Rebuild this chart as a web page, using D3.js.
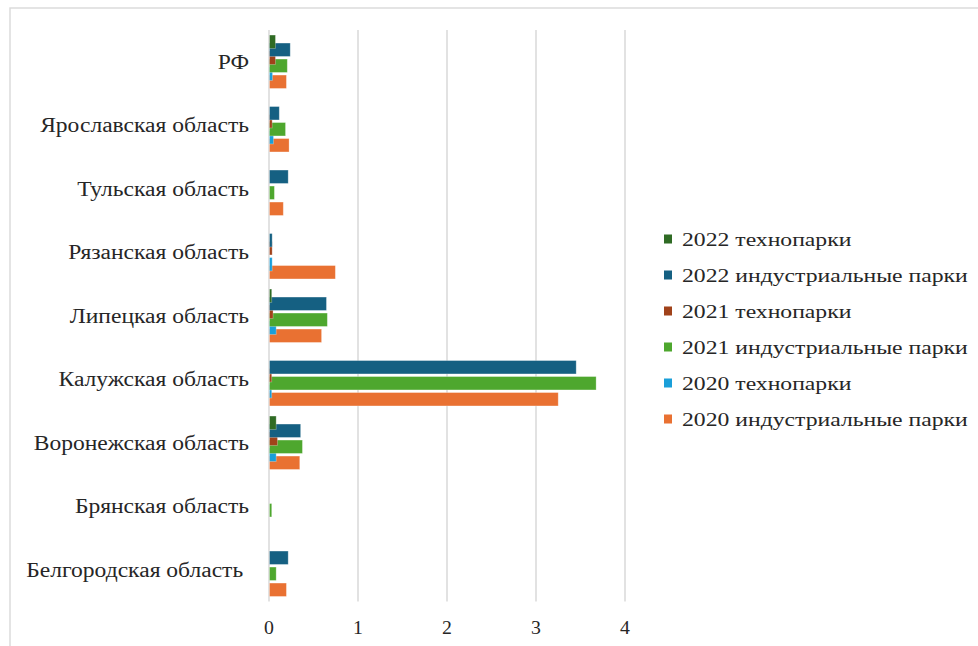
<!DOCTYPE html>
<html><head><meta charset="utf-8">
<script src="https://cdn.jsdelivr.net/npm/d3@7"></script>
<style>html,body{margin:0;padding:0;background:#fff;overflow:hidden}</style>
</head><body>
<svg id="c" width="978" height="646"></svg>
<script>
const categories = ["РФ","Ярославская область","Тульская область","Рязанская область","Липецкая область","Калужская область","Воронежская область","Брянская область","Белгородская область "];
const seriesNames = ["2022 технопарки","2022 индустриальные парки","2021 технопарки","2021 индустриальные парки","2020 технопарки","2020 индустриальные парки"];
const tech2022 = [0.067,0,0,0,0.025,0,0.075,0,0];
const ind2022  = [0.233,0.11,0.21,0.03,0.64,3.446,0.35,0,0.21];
const tech2021 = [0.067,0.03,0,0.03,0.04,0.025,0.09,0,0];
const ind2021  = [0.2,0.18,0.055,0,0.65,3.67,0.37,0.025,0.075];
const tech2020 = [0.034,0.045,0,0.03,0.075,0.025,0.075,0,0];
const ind2020  = [0.19,0.22,0.155,0.74,0.585,3.244,0.34,0,0.19];
const xTicks = [0,1,2,3,4];
const colors = ["#2f6b24","#156082","#a0421a","#4ea72e","#1a9fd9","#e97132"];

const seriesValues = [tech2022, ind2022, tech2021, ind2021, tech2020, ind2020];
const svg = d3.select("#c");
const font = "'Liberation Serif', serif";
const catStretch = 1.177, legStretch = 1.215;

svg.append("rect").attr("x",10).attr("y",8).attr("width",1000).attr("height",700)
  .attr("fill","none").attr("stroke","#d9d9d9").attr("stroke-width",1.4);

const x = d3.scaleLinear().domain([0,4]).range([269,625]);
const y = d3.scaleBand().domain(categories).range([30,601.5]);
const bw = y.bandwidth();
const barH = bw*0.211;
const step = bw*0.126;
const ySub = d3.scalePoint().domain(seriesNames).range([0,5*step]);
const groupOff = (bw - (5*step+barH))/2;

// gridlines
svg.append("g").selectAll("line").data(xTicks).join("line")
  .attr("x1",d=>x(d)).attr("x2",d=>x(d)).attr("y1",30).attr("y2",601.5)
  .attr("stroke","#d9d9d9").attr("stroke-width",1.5);

// bars: lower series drawn first so upper series overlap them
const order = [5,4,3,2,1,0];
const gBars = svg.append("g");
order.forEach(si=>{
  gBars.append("g").selectAll("rect").data(seriesValues[si].map((v,i)=>({v,c:categories[i]})).filter(d=>d.v>0))
    .join("rect")
    .attr("x",x(0)+0.5)
    .attr("y",d=>y(d.c)+groupOff+ySub(seriesNames[si]))
    .attr("width",d=>x(d.v)-x(0))
    .attr("height",barH)
    .attr("fill",colors[si])
    .attr("stroke","rgba(255,255,255,0.35)").attr("stroke-width",0.8);
});

// category labels
svg.append("g").selectAll("text").data(categories).join("text")
  .attr("transform",d=>`translate(249,${y(d)+bw/2}) scale(${catStretch},1)`)
  .attr("dy","0.35em")
  .attr("text-anchor","end").style("white-space","pre")
  .attr("font-family",font).attr("font-size",20).attr("fill","#262626")
  .text(d=>d);

// x tick labels
svg.append("g").selectAll("text").data(xTicks).join("text")
  .attr("transform",d=>`translate(${x(d)},628) scale(1.1,1)`)
  .attr("dy","0.35em").attr("text-anchor","middle")
  .attr("font-family",font).attr("font-size",18).attr("fill","#262626")
  .text(d=>d);

// legend
const lg = svg.append("g");
seriesNames.forEach((n,i)=>{
  const cy = 239 + i*36;
  lg.append("rect").attr("x",664).attr("y",cy-4.5).attr("width",8).attr("height",9).attr("fill",colors[i]);
  lg.append("text").attr("transform",`translate(682,${cy}) scale(${legStretch},1)`).attr("dy","0.35em")
    .attr("font-family",font).attr("font-size",19.5).attr("fill","#262626").text(n);
});
</script>
</body></html>
